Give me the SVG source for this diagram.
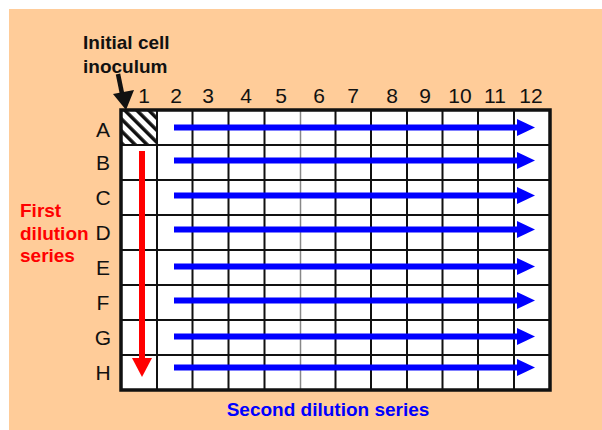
<svg xmlns="http://www.w3.org/2000/svg" width="602" height="430" viewBox="0 0 602 430">
<defs>
<style>
.lbl{font-family:"Liberation Sans",Arial,sans-serif;font-size:21px;fill:#111}
.b{font-family:"Liberation Sans",Arial,sans-serif;font-size:19px;font-weight:bold}
.grid{stroke:#111;stroke-width:2}
.blue{stroke:#0000ff;stroke-width:6}
.bh{fill:#0000ff}
</style>
<pattern id="hatch" patternUnits="userSpaceOnUse" width="8.5" height="8.5" patternTransform="rotate(-45)"><rect width="8.5" height="8.5" fill="#fff"/><rect width="3.5" height="8.5" fill="#111"/></pattern>
</defs>
<rect x="0" y="0" width="602" height="430" fill="#fff"/>
<rect x="9" y="9" width="593" height="421" fill="#ffcc99"/>
<g id="plate">
<rect x="121" y="110" width="429" height="280" fill="#fff"/>
<rect x="121" y="110" width="36" height="35" fill="url(#hatch)"/>
<g class="grid">
<line x1="157" y1="110" x2="157" y2="390"/>
<line x1="192.5" y1="110" x2="192.5" y2="390"/>
<line x1="228.5" y1="110" x2="228.5" y2="390"/>
<line x1="264.5" y1="110" x2="264.5" y2="390"/>
<line x1="300.5" y1="110" x2="300.5" y2="390" stroke="#888" stroke-width="1.5"/>
<line x1="335.5" y1="110" x2="335.5" y2="390"/>
<line x1="371" y1="110" x2="371" y2="390"/>
<line x1="407" y1="110" x2="407" y2="390"/>
<line x1="442.5" y1="110" x2="442.5" y2="390"/>
<line x1="478" y1="110" x2="478" y2="390"/>
<line x1="514" y1="110" x2="514" y2="390"/>
<line x1="121" y1="145" x2="550" y2="145"/>
<line x1="121" y1="180" x2="550" y2="180"/>
<line x1="121" y1="215" x2="550" y2="215"/>
<line x1="121" y1="250" x2="550" y2="250"/>
<line x1="121" y1="285" x2="550" y2="285"/>
<line x1="121" y1="320" x2="550" y2="320"/>
<line x1="121" y1="355" x2="550" y2="355"/>
</g>
<rect x="121" y="110" width="429" height="280" fill="none" stroke="#111" stroke-width="3.5"/>
</g>
<g id="col-labels" class="lbl" text-anchor="middle">
<text x="144" y="103">1</text><text x="176" y="103">2</text><text x="208" y="103">3</text>
<text x="246" y="103">4</text><text x="281" y="103">5</text><text x="319" y="103">6</text>
<text x="353" y="103">7</text><text x="392" y="103">8</text><text x="425" y="103">9</text>
<text x="460" y="103">10</text><text x="495" y="103">11</text><text x="531" y="103">12</text>
</g>
<g id="row-labels" class="lbl" text-anchor="middle">
<text x="103" y="137">A</text><text x="103" y="170">B</text><text x="103" y="205">C</text>
<text x="103" y="240">D</text><text x="103" y="275">E</text><text x="103" y="310">F</text>
<text x="103" y="345">G</text><text x="103" y="380">H</text>
</g>
<g id="connectors">
<g class="blue">
<line x1="174" y1="127.5" x2="520" y2="127.5"/>
<line x1="174" y1="160.5" x2="520" y2="160.5"/>
<line x1="174" y1="195.5" x2="520" y2="195.5"/>
<line x1="174" y1="229.5" x2="520" y2="229.5"/>
<line x1="174" y1="266.5" x2="520" y2="266.5"/>
<line x1="174" y1="300.5" x2="520" y2="300.5"/>
<line x1="174" y1="336.5" x2="520" y2="336.5"/>
<line x1="174" y1="367.5" x2="520" y2="367.5"/>
</g>
<g class="bh">
<path d="M517,119 L535,127.5 L517,136 Z"/>
<path d="M517,152 L535,160.5 L517,169 Z"/>
<path d="M517,187 L535,195.5 L517,204 Z"/>
<path d="M517,221 L535,229.5 L517,238 Z"/>
<path d="M517,258 L535,266.5 L517,275 Z"/>
<path d="M517,292 L535,300.5 L517,309 Z"/>
<path d="M517,328 L535,336.5 L517,345 Z"/>
<path d="M517,359 L535,367.5 L517,376 Z"/>
</g>
<line x1="142" y1="151" x2="142" y2="360" stroke="#ff0000" stroke-width="6"/>
<path d="M132,358 L152,358 L142,377 Z" fill="#ff0000"/>
<line x1="118" y1="74" x2="122.5" y2="96" stroke="#111" stroke-width="4.5"/>
<path d="M113,94 L134,90 L126,110 Z" fill="#111"/>
</g>
<g id="texts" class="b">
<text x="83" y="49" fill="#111">Initial cell</text>
<text x="83" y="73" fill="#111">inoculum</text>
<text x="20" y="217" fill="#ff0000">First</text>
<text x="20" y="240" fill="#ff0000">dilution</text>
<text x="20" y="262" fill="#ff0000">series</text>
<text x="328" y="416" fill="#0000ff" text-anchor="middle">Second dilution series</text>
</g>
</svg>
